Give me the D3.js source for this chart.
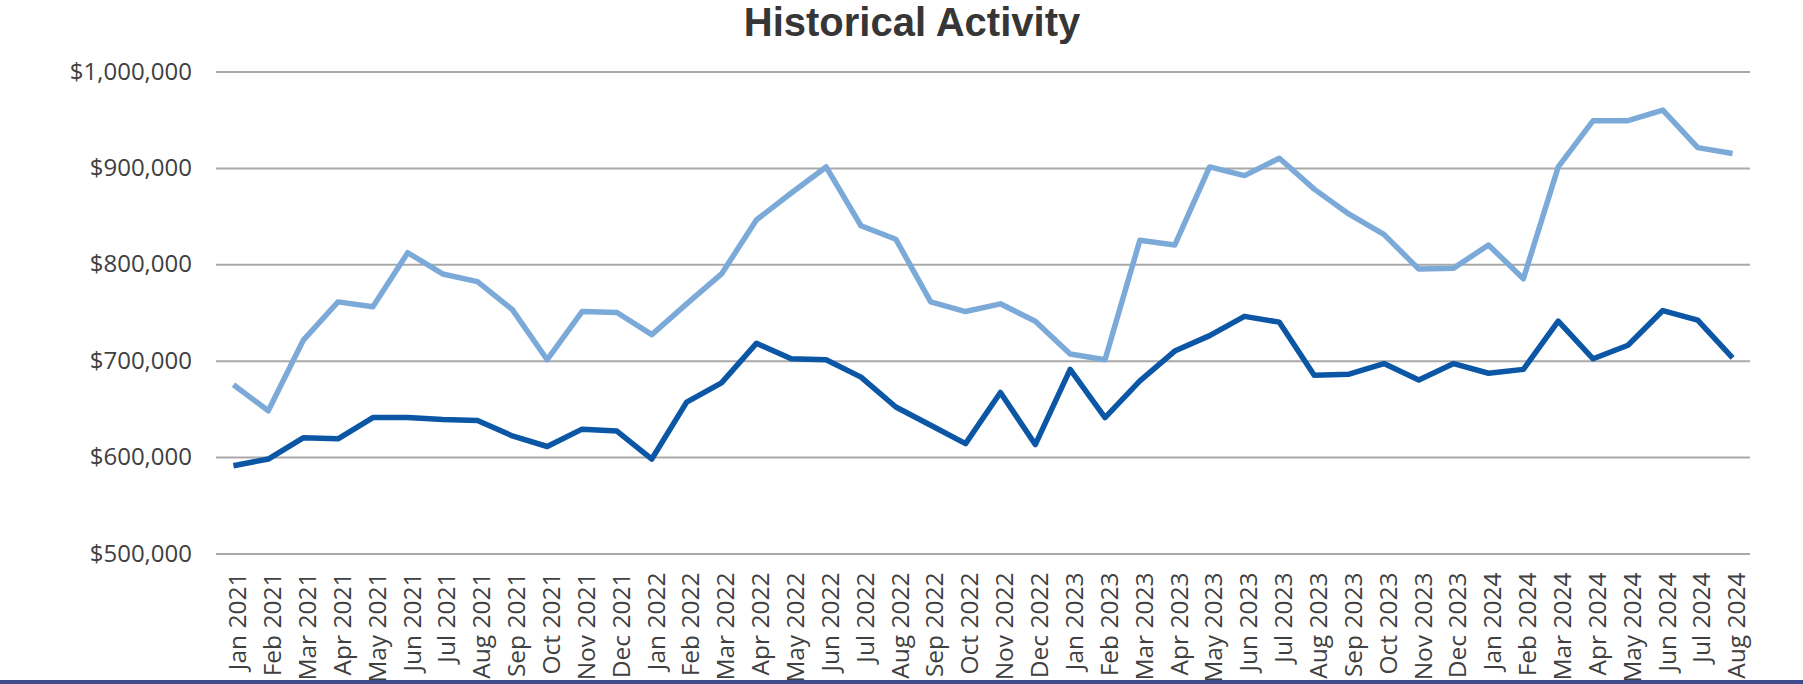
<!DOCTYPE html>
<html>
<head>
<meta charset="utf-8">
<script src="https://cdn.jsdelivr.net/npm/d3@7"></script>
<style>
  html, body { margin: 0; padding: 0; background: #ffffff; }
  svg { display: block; }
</style>
</head>
<body>
<svg id="chart" width="1803" height="684"></svg>
<script>
// ---- data ----
const months = [
  "Jan 2021","Feb 2021","Mar 2021","Apr 2021","May 2021","Jun 2021","Jul 2021","Aug 2021","Sep 2021","Oct 2021","Nov 2021","Dec 2021",
  "Jan 2022","Feb 2022","Mar 2022","Apr 2022","May 2022","Jun 2022","Jul 2022","Aug 2022","Sep 2022","Oct 2022","Nov 2022","Dec 2022",
  "Jan 2023","Feb 2023","Mar 2023","Apr 2023","May 2023","Jun 2023","Jul 2023","Aug 2023","Sep 2023","Oct 2023","Nov 2023","Dec 2023",
  "Jan 2024","Feb 2024","Mar 2024","Apr 2024","May 2024","Jun 2024","Jul 2024","Aug 2024"
];
const upperSeries = [
  675000,648000,721000,761000,756000,812000,790000,782000,753000,701000,751000,750000,
  727000,759000,790000,846000,874000,901000,840000,826000,761000,751000,759000,741000,
  707000,701000,825000,820000,901000,892000,910000,878000,852000,831000,795000,796000,
  820000,785000,901000,949000,949000,960000,921000,915000
];
const lowerSeries = [
  591000,598000,620000,619000,641000,641000,639000,638000,622000,611000,629000,627000,
  598000,657000,677000,718000,702000,701000,683000,652000,633000,614000,667000,613000,
  691000,641000,679000,710000,726000,746000,740000,685000,686000,697000,680000,697000,
  687000,691000,741000,702000,716000,752000,742000,703000
];
const yTicks = [500000,600000,700000,800000,900000,1000000];
const titleText = "Historical Activity";

// ---- layout ----
const W = 1803, H = 684;
const plot = { left: 216, right: 1750, top: 71.5, bottom: 553.5 };

const svg = d3.select("#chart");

const x = d3.scalePoint()
  .domain(months)
  .range([plot.left, plot.right])
  .padding(0.5);

const y = d3.scaleLinear()
  .domain([500000, 1000000])
  .range([plot.bottom, plot.top]);

// title
svg.append("text")
  .attr("x", 912)
  .attr("y", 36)
  .attr("text-anchor", "middle")
  .style("font-family", "'Liberation Sans', Arial, sans-serif")
  .style("font-weight", "bold")
  .style("font-size", "40px")
  .style("fill", "#363636")
  .text(titleText);

// y axis with gridlines
const fmt = v => "$" + d3.format(",")(v);
const yAxis = svg.append("g")
  .attr("transform", `translate(${plot.left},0)`)
  .call(d3.axisLeft(y)
    .tickValues(yTicks)
    .tickFormat(fmt)
    .tickSize(-(plot.right - plot.left))
    .tickPadding(24));
yAxis.select(".domain").remove();
yAxis.selectAll(".tick line")
  .attr("stroke", "#a9a9a9")
  .attr("stroke-width", 2);
yAxis.selectAll(".tick text")
  .style("font-family", "'Open Sans', sans-serif")
  .style("font-size", "24px")
  .style("fill", "#404040");

// x axis labels
const xAxis = svg.append("g")
  .attr("transform", `translate(0,${plot.bottom})`)
  .call(d3.axisBottom(x).tickSize(0).tickPadding(0));
xAxis.select(".domain").remove();
xAxis.selectAll(".tick text")
  .style("font-family", "'Open Sans', sans-serif")
  .style("font-size", "24.5px")
  .style("fill", "#404040")
  .attr("text-anchor", "end")
  .attr("transform", "rotate(-90)")
  .attr("x", -19)
  .attr("y", 0)
  .attr("dy", "0.5em");

// lines
const line = d3.line()
  .x((d, i) => x(months[i]))
  .y(d => y(d));

svg.append("path")
  .datum(upperSeries)
  .attr("fill", "none")
  .attr("stroke", "#7caad8")
  .attr("stroke-width", 5.5)
  .attr("stroke-linejoin", "round")
  .attr("d", line);

svg.append("path")
  .datum(lowerSeries)
  .attr("fill", "none")
  .attr("stroke", "#0b57a5")
  .attr("stroke-width", 5.5)
  .attr("stroke-linejoin", "round")
  .attr("d", line);

// bottom border band
svg.append("rect")
  .attr("x", 0)
  .attr("y", 680)
  .attr("width", W)
  .attr("height", 4)
  .attr("fill", "#3e4c8e");
</script>
</body>
</html>
